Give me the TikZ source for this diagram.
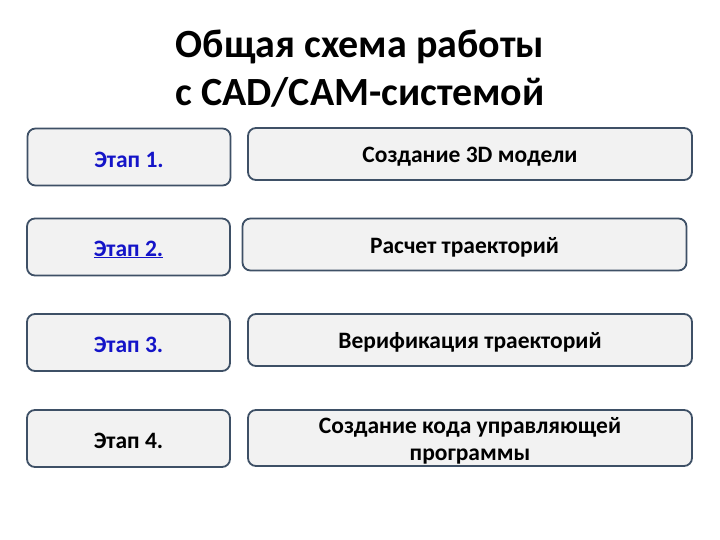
\documentclass[tikz,border=0pt]{standalone}
\usepackage{fontspec}
\setmainfont{Carlito}
\usepackage{xcolor}
\usetikzlibrary{positioning}
\definecolor{boxline}{RGB}{62,80,102}
\definecolor{boxfill}{RGB}{242,242,242}
\definecolor{stageblue}{RGB}{20,20,200}

\begin{document}
\begin{tikzpicture}[x=1pt, y=-1pt,
  stagebox/.style={draw=boxline, line width=1.8pt, fill=boxfill, rounded corners=8pt,
    rectangle, minimum width=203pt, minimum height=57pt, inner sep=0pt},
  taskbox/.style={draw=boxline, line width=1.8pt, fill=boxfill, rounded corners=8pt,
    rectangle, minimum width=444pt, minimum height=52pt, inner sep=0pt},
  boxtext/.style={font=\bfseries\fontsize{23.5}{27}\selectfont, align=center, yshift=-2.5pt}]
  \useasboundingbox (0,0) rectangle (720,540);

  \node[font=\bfseries\fontsize{40}{48}\selectfont, align=center] (title) at (360,69)
    {Общая схема работы\\с CAD/CAM-системой};

  \node[stagebox] (stage1) at (129,157) {};
  \node[stagebox] (stage2) at (128.5,247) {};
  \node[stagebox] (stage3) at (128.5,342.5) {};
  \node[stagebox] (stage4) at (128.5,438.5) {};

  \node[taskbox] (task1) at (470,154) {};
  \node[taskbox] (task2) at (464.5,244.5) {};
  \node[taskbox] (task3) at (470,340) {};
  \node[taskbox, minimum height=56pt] (task4) at (470,438) {};

  \node[boxtext, text=stageblue] at (stage1) {Этап 1.};
  \node[boxtext, text=stageblue] at (stage2) {\underline{Этап 2.}};
  \node[boxtext, text=stageblue] at (stage3) {Этап 3.};
  \node[boxtext] at (stage4) {Этап 4.};

  \node[boxtext] at (task1) {Создание 3D модели};
  \node[boxtext] at (task2) {Расчет траекторий};
  \node[boxtext] at (task3) {Верификация траекторий};
  \node[boxtext] at (task4) {Создание кода управляющей\\программы};
\end{tikzpicture}
\end{document}
